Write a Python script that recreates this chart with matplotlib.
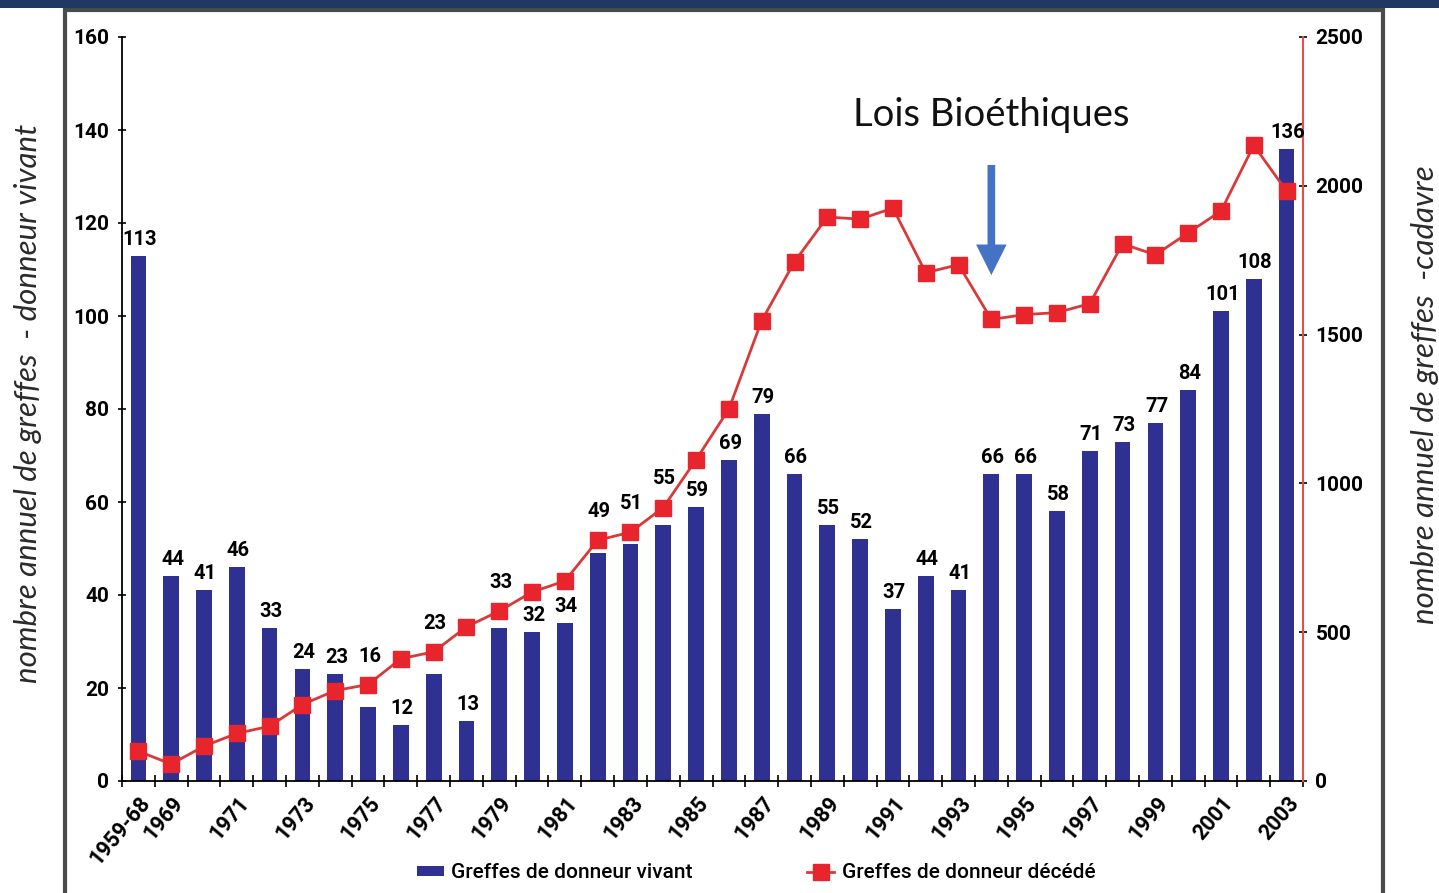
import matplotlib.pyplot as plt
import matplotlib.patches as mpatches
from matplotlib.lines import Line2D
import numpy as np

# Data
years = ['1959-68'] + [str(y) for y in range(1969, 2004)]
vivant = [113, 44, 41, 46, 33, 24, 23, 16, 12, 23, 13, 33, 32, 34, 49, 51, 55, 59,
          69, 79, 66, 55, 52, 37, 44, 41, 66, 66, 58, 71, 73, 77, 84, 101, 108, 136]
decede = [100, 57, 117, 160, 184, 257, 304, 324, 411, 434, 518, 571, 635, 672, 809,
          836, 919, 1080, 1250, 1547, 1745, 1895, 1888, 1925, 1708, 1735, 1551, 1567,
          1574, 1604, 1805, 1768, 1842, 1915, 2136, 1982]
shown_labels = ['1959-68'] + [str(y) for y in range(1969, 2004, 2)]
law_year = '1994'

NAVY = '#2e3192'
RED = '#e8242c'
LINE_RED = '#d83a3a'
NARROW = ['Roboto', 'DejaVu Sans']
SOFT = ['Lato', 'DejaVu Sans']
LEFT_MAX, RIGHT_MAX = 160, 2500

fig = plt.figure(figsize=(14.39, 8.93), dpi=100)

# page decoration: dark band on top and framed panel
fig.patches.append(mpatches.Rectangle((0, 1 - 8 / 893), 1, 8 / 893, transform=fig.transFigure,
                                      facecolor='#1f3864', edgecolor='none', zorder=-10))
fig.patches.append(mpatches.Rectangle((65 / 1439, -0.05), (1383 - 65) / 1439, 1.05 - 10 / 893,
                                      transform=fig.transFigure, facecolor='white',
                                      edgecolor='#4a4a4a', linewidth=3, zorder=-10))

ax = fig.add_axes([122 / 1439, 1 - 781 / 893, (1303 - 122) / 1439, (781 - 37) / 893])
ax.patch.set_alpha(0)
x = np.arange(len(years))

ax.bar(x, vivant, width=0.48, color=NAVY, zorder=2)

ax.set_xlim(-0.5, len(years) - 0.5)
ax.set_ylim(0, LEFT_MAX)
ax.set_yticks(np.arange(0, LEFT_MAX + 1, 20))
ax.tick_params(axis='y', direction='inout', length=6, width=1.2, labelsize=15, pad=6)
for lab in ax.get_yticklabels():
    lab.set_family(NARROW)
    lab.set_fontweight('bold')

tick_pos = [years.index(s) for s in shown_labels]
ax.set_xticks(tick_pos)
ax.set_xticklabels(shown_labels, rotation=50, ha='right', va='top', rotation_mode='anchor',
                   fontsize=15.5, fontweight='bold', family=NARROW)
ax.tick_params(axis='x', which='major', length=0, pad=8)
ax.set_xticks(np.arange(-0.5, len(years), 1), minor=True)
ax.tick_params(axis='x', which='minor', direction='inout', length=8, width=1.2)
for s in ['top', 'right']:
    ax.spines[s].set_visible(False)
ax.spines['left'].set_linewidth(1.3)
ax.spines['bottom'].set_linewidth(1.3)

ax2 = ax.twinx()
ax2.plot(x, decede, color=LINE_RED, linewidth=2, marker='s', markersize=11.5,
         markerfacecolor=RED, markeredgecolor=RED, zorder=4)
ax2.set_ylim(0, RIGHT_MAX)
ax2.set_yticks(np.arange(0, RIGHT_MAX + 1, 500))
ax2.tick_params(axis='y', direction='inout', length=6, width=1.2, labelsize=15, pad=6)
for lab in ax2.get_yticklabels():
    lab.set_family(NARROW)
    lab.set_fontweight('bold')
for s in ['top', 'left', 'bottom']:
    ax2.spines[s].set_visible(False)
ax2.spines['right'].set_color('#e0504f')
ax2.spines['right'].set_linewidth(1.5)

# bar value labels, lifted above the red marker when they would collide
for xi, v, d in zip(x, vivant, decede):
    d_left = d / RIGHT_MAX * LEFT_MAX
    y = v
    if v - 1 <= d_left <= v + 6:
        y = d_left + 2.6
    ax2.annotate(str(v), (xi, y), xycoords=ax.transData, xytext=(1, 5),
                 textcoords='offset points', ha='center', va='bottom', fontsize=14.5,
                 fontweight='bold', family=NARROW, zorder=6)

# annotation: bioethics laws
lx = years.index(law_year)
ax2.annotate('', xy=(lx, 0.68), xytext=(lx, 0.828), xycoords=('data', 'axes fraction'),
             textcoords=('data', 'axes fraction'),
             arrowprops=dict(facecolor='#4472c4', edgecolor='none', width=5.5,
                             headwidth=22, headlength=22, shrink=0))
ax2.text(lx, 0.895, 'Lois Bioéthiques', transform=ax2.get_xaxis_transform(), ha='center',
         va='center', fontsize=27.5, family=SOFT, color='#111111')

# axis titles outside the frame
fig.text(28 / 1439, 1 - 403 / 893, 'nombre annuel de greffes  - donneur vivant', rotation=90,
         ha='center', va='center', fontsize=22.5, style='italic', family=SOFT, color='#2a2a2a')
fig.text(1425 / 1439, 1 - 395 / 893, 'nombre annuel de greffes  -cadavre', rotation=90,
         ha='center', va='center', fontsize=22.5, style='italic', family=SOFT, color='#2a2a2a')

handles = [mpatches.Rectangle((0, 0), 1, 1, facecolor=NAVY, edgecolor='none'),
           Line2D([], [], color=LINE_RED, linewidth=2, marker='s', markersize=11,
                  markerfacecolor=RED, markeredgecolor=RED)]
leg = fig.legend(handles, ['Greffes de donneur vivant', 'Greffes de donneur décédé'],
                 loc='center', bbox_to_anchor=(756 / 1439, 1 - 873 / 893), ncol=2,
                 frameon=False, handlelength=1.3, handleheight=0.4, handletextpad=0.35,
                 columnspacing=5.5, prop={'family': NARROW, 'size': 15, 'weight': 'medium'})

fig.savefig('out.png', dpi=100)
